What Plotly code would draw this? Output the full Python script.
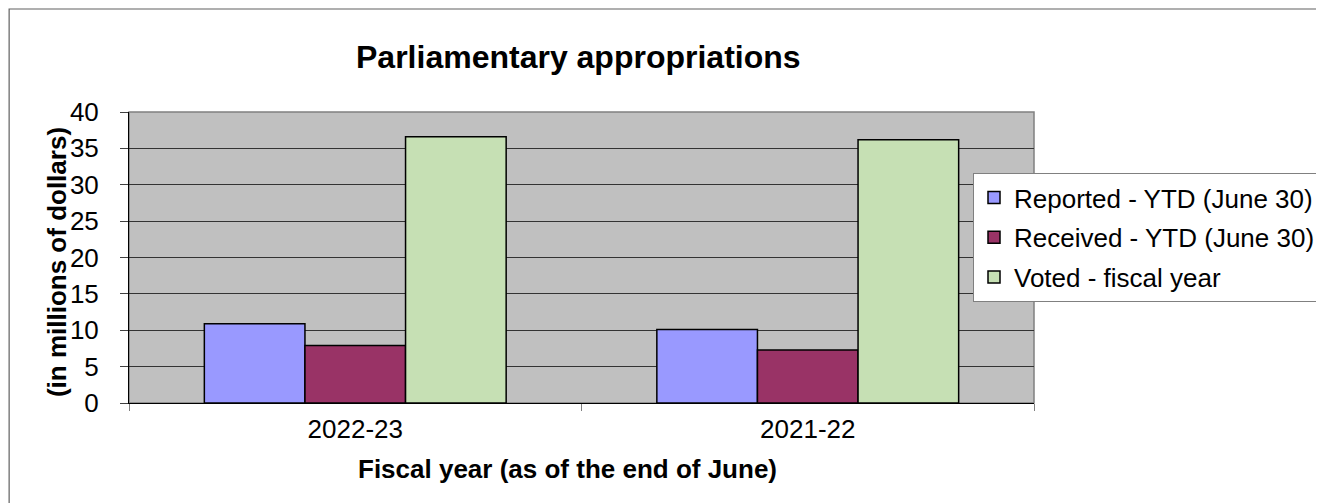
import plotly.graph_objects as go

categories = ["2022-23", "2021-22"]
reported = [10.9, 10.1]
received = [7.9, 7.3]
voted = [36.6, 36.2]
series_names = ["Reported - YTD (June 30)", "Received - YTD (June 30)", "Voted - fiscal year"]
series_colors = ["#9999FF", "#993366", "#C6E0B4"]
y_ticks = [0, 5, 10, 15, 20, 25, 30, 35, 40]

FONT = "Arial, Liberation Sans, sans-serif"
OFF = 8  # page body margin offset

fig = go.Figure()
for i, (name, vals, col) in enumerate(zip(series_names, [reported, received, voted], series_colors)):
    fig.add_trace(go.Bar(
        x=categories, y=vals, name=name, legendgroup=f"g{i}",
        marker=dict(color=col, line=dict(color="black", width=1.5)),
    ))

W, H = 1324, 503
# plot area in page pixel coords
L, R, T, B = 129 - OFF, 1035 - OFF, 112 - OFF, 403 - OFF
pw, ph = R - L, B - T

def px_x(v):
    return (v - OFF - L) / pw

def px_y(v):
    return (B - (v - OFF)) / ph

fig.update_layout(
    width=W, height=H,
    margin=dict(l=L, r=W - R, t=T, b=H - B, pad=0),
    paper_bgcolor="white",
    plot_bgcolor="#C0C0C0",
    barmode="group",
    bargap=0.333,
    bargroupgap=0,
    font=dict(family=FONT, color="black"),
    showlegend=True,
    legend=dict(x=px_x(973), y=px_y(173), xanchor="left", yanchor="top",
                bgcolor="white", bordercolor="#808080", borderwidth=1,
                font=dict(size=26, family=FONT), traceorder="grouped",
                tracegroupgap=3, itemwidth=30),
    xaxis=dict(
        type="category", showgrid=False, ticks="outside", tickson="boundaries",
        ticklen=7, tickcolor="#808080", showline=True, linecolor="black", linewidth=1,
        tickfont=dict(size=26, family=FONT), ticklabelstandoff=3,
    ),
    yaxis=dict(
        range=[0, 40], tickvals=y_ticks, ticks="outside", ticklen=8, tickcolor="#404040",
        showgrid=True, gridcolor="#333333", gridwidth=1, zeroline=False,
        showline=True, linecolor="black", linewidth=1,
        tickfont=dict(size=26, family=FONT), ticklabelstandoff=16,
    ),
    annotations=[
        dict(text="<b>Parliamentary appropriations</b>", font=dict(size=32, family=FONT),
             xref="paper", yref="paper", x=px_x(579), y=px_y(57),
             xanchor="center", yanchor="middle", showarrow=False),
        dict(text="<b>Fiscal year (as of the end of June)</b>", font=dict(size=26, family=FONT),
             xref="paper", yref="paper", x=px_x(568), y=px_y(469),
             xanchor="center", yanchor="middle", showarrow=False),
        dict(text="<b>(in millions of dollars)</b>", font=dict(size=26, family=FONT),
             xref="paper", yref="paper", x=px_x(57), y=px_y(262), textangle=-90,
             xanchor="center", yanchor="middle", showarrow=False),
    ],
    shapes=[
        dict(type="rect", xref="paper", yref="paper", x0=0, x1=1, y0=0, y1=1,
             line=dict(color="#808080", width=1.5), layer="below"),
        dict(type="rect", xref="paper", yref="paper",
             x0=px_x(OFF + 1), x1=px_x(1318.5), y0=px_y(520), y1=px_y(OFF + 1),
             line=dict(color="#606060", width=1.2), fillcolor="rgba(0,0,0,0)", layer="below"),
    ],
)

fig.write_html("out.html")
